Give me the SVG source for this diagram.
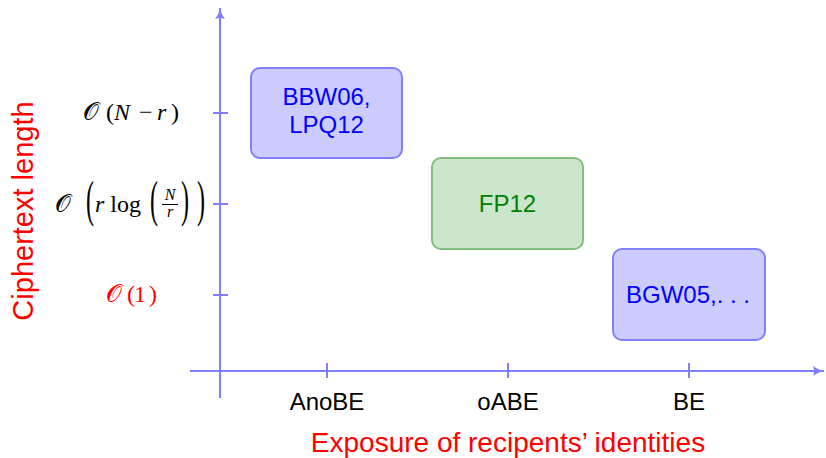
<svg xmlns="http://www.w3.org/2000/svg" width="826" height="458" viewBox="0 0 826 458">
  <style>
    .axis { stroke: #8080ff; stroke-width: 2; fill: none; }
    .tick { stroke: #8080ff; stroke-width: 2; }
    .sans { font-family: "Liberation Sans", Arial, sans-serif; }
    .lbl { font-size: 24px; fill: #000; text-anchor: middle; }
    .axlbl { font-size: 28px; fill: #ff0000; text-anchor: middle; }
    .math { font-family: "Liberation Serif", "DejaVu Serif", serif; font-size: 24px; fill: #000; }
    .cal { font-family: "DejaVu Serif", "DejaVu Sans", "Liberation Serif", serif; font-style: normal; font-size: 25px; }
    .it { font-style: italic; }
    .box-blue rect { fill: #ccccff; stroke: #8080ff; stroke-width: 2; }
    .box-blue text { fill: #0000ff; }
    .box-green rect { fill: #cce6cc; stroke: #80bf80; stroke-width: 2; }
    .box-green text { fill: #008000; }
    .boxtxt { font-size: 24px; text-anchor: middle; }
  </style>
  <defs>
    <marker id="arrow" markerUnits="userSpaceOnUse" viewBox="0 0 12 10" refX="11" refY="5" markerWidth="12" markerHeight="10" orient="auto">
      <path d="M0,0 Q5,4 12,5 Q5,6 0,10 Q2,5 0,0 Z" fill="#8080ff"/>
    </marker>
  </defs>

  <!-- axes with ticks -->
  <g id="connectors">
    <line class="axis" x1="220" y1="398" x2="220" y2="8" marker-end="url(#arrow)"/>
    <line class="axis" x1="190" y1="371" x2="824" y2="371" marker-end="url(#arrow)"/>
    <line class="tick" x1="213" y1="113" x2="228" y2="113"/>
    <line class="tick" x1="213" y1="204" x2="228" y2="204"/>
    <line class="tick" x1="213" y1="295" x2="228" y2="295"/>
    <line class="tick" x1="327" y1="363" x2="327" y2="378"/>
    <line class="tick" x1="508" y1="363" x2="508" y2="378"/>
    <line class="tick" x1="689" y1="363" x2="689" y2="378"/>
  </g>

  <!-- x tick labels -->
  <g id="xlabels" class="sans lbl">
    <text x="327" y="410">AnoBE</text>
    <text x="508" y="410">oABE</text>
    <text x="689" y="410">BE</text>
  </g>

  <!-- y tick labels -->
  <g id="ylabels" class="math">
    <g id="ylabel-top">
      <text x="83" y="120" class="cal">𝒪</text>
      <text x="106" y="120">(</text>
      <text x="114" y="120" class="it">N</text>
      <text x="139" y="120">−</text>
      <text x="157" y="120" class="it">r</text>
      <text x="171" y="120">)</text>
    </g>
    <g id="ylabel-mid">
      <text x="55" y="212" class="cal">𝒪</text>
      <text transform="translate(86,216) scale(1,2.1)">(</text>
      <text x="95" y="212"><tspan class="it">r</tspan> log</text>
      <text transform="translate(150,216) scale(1,2.1)">(</text>
      <text x="170" y="200" class="it" font-size="16" text-anchor="middle">N</text>
      <line x1="162" y1="204.5" x2="178" y2="204.5" stroke="#000" stroke-width="1"/>
      <text x="170" y="217" class="it" font-size="16" text-anchor="middle">r</text>
      <text transform="translate(181,216) scale(1,2.1)">)</text>
      <text transform="translate(197,216) scale(1,2.1)">)</text>
    </g>
    <g id="ylabel-low" fill="#ff0000">
      <text x="106" y="302" class="cal">𝒪</text>
      <text x="127" y="302">(</text>
      <text x="134" y="302">1</text>
      <text x="149" y="302">)</text>
    </g>
  </g>

  <!-- axis titles -->
  <text class="sans axlbl" style="font-size:29px" transform="translate(33,211) rotate(-90)">Ciphertext length</text>
  <text class="sans axlbl" x="508" y="452">Exposure of recipents’ identities</text>

  <!-- nodes -->
  <g id="node-bbw06" class="box-blue">
    <rect x="251" y="68" width="151" height="90" rx="9"/>
    <text class="sans boxtxt" x="326.5" y="105">BBW06,</text>
    <text class="sans boxtxt" x="326.5" y="133">LPQ12</text>
  </g>
  <g id="node-fp12" class="box-green">
    <rect x="432" y="158" width="151" height="91" rx="9"/>
    <text class="sans boxtxt" x="507.5" y="212">FP12</text>
  </g>
  <g id="node-bgw05" class="box-blue">
    <rect x="613" y="249" width="152" height="91" rx="9"/>
    <text class="sans boxtxt" x="688" y="303">BGW05,. . .</text>
  </g>
</svg>
